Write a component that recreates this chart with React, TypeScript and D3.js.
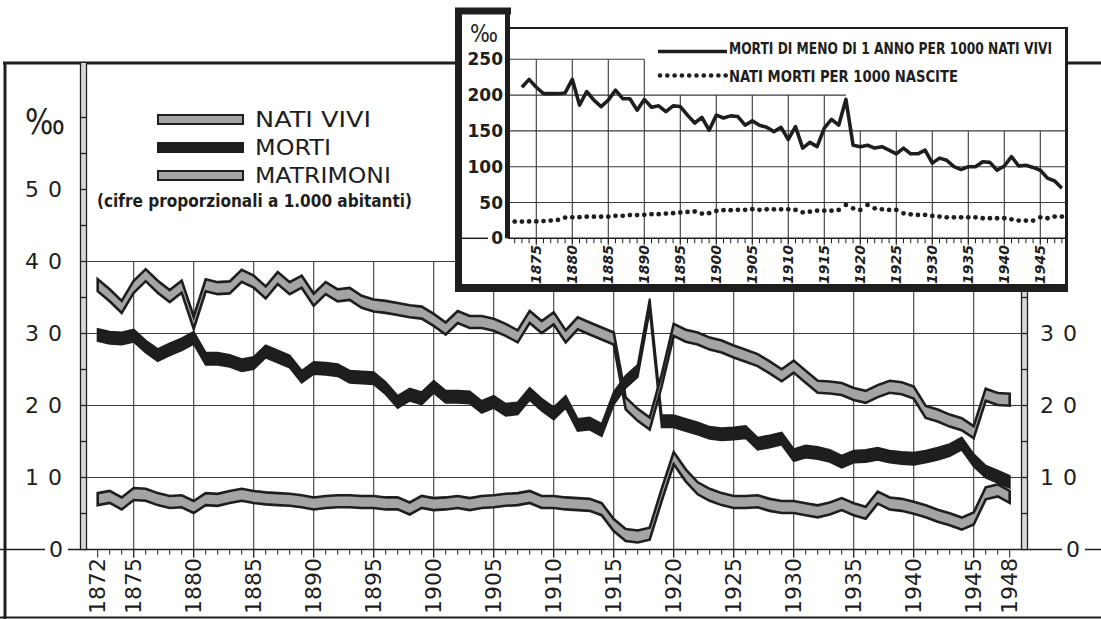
import * as d3 from 'd3';

// Annual series 1872–1948, per 1000 inhabitants (main chart)
const FIRST_YEAR = 1872;
const natiVivi = [
  36.7, 35.3, 33.7, 36.5, 38.1, 36.5, 35.2, 36.5, 31.5, 36.7,
  36.3, 36.4, 38.0, 37.2, 35.7, 37.7, 36.3, 37.2, 34.7, 36.3,
  35.3, 35.5, 34.4, 33.9, 33.7, 33.4, 33.1, 32.9, 31.9, 30.7,
  32.3, 31.6, 31.6, 31.2, 30.5, 29.6, 32.3, 30.9, 32.1, 29.6,
  31.4, 30.7, 30.0, 29.3, 20.3, 18.7, 17.5, 23.5, 30.5, 29.7,
  29.3, 28.6, 28.2, 27.5, 26.9, 26.3, 25.3, 24.2, 25.4, 24.0,
  22.6, 22.5, 22.3, 21.6, 21.2, 22.0, 22.6, 22.4, 21.8, 19.1,
  18.6, 17.9, 17.4, 16.3, 21.5, 20.9, 20.8,
];
const morti = [
  29.8, 29.4, 29.3, 29.7, 28.2, 27.0, 27.8, 28.5, 29.4, 26.5,
  26.5, 26.2, 25.6, 25.9, 27.5, 26.8, 26.1, 24.0, 25.2, 25.1,
  24.9, 24.0, 23.9, 23.8, 22.4, 20.5, 21.5, 21.0, 22.6, 21.2,
  21.2, 21.1, 19.8, 20.5, 19.4, 19.6, 21.6, 20.1, 18.9, 20.5,
  17.3, 17.5, 16.6, 21.0, 23.3, 24.8, 34.0, 17.8, 17.8, 17.3,
  16.8, 16.2, 16.0, 16.1, 16.3, 14.7, 15.0, 15.4, 13.1, 13.6,
  13.4, 13.0, 12.2, 12.9, 13.0, 13.3, 12.9, 12.7, 12.6, 12.9,
  13.3, 13.8, 14.7, 12.4, 10.8, 10.1, 9.4,
];
const matrimoni = [
  7.0, 7.3, 6.4, 7.7, 7.6, 7.0, 6.6, 6.7, 5.9, 7.0,
  6.9, 7.3, 7.6, 7.3, 7.1, 7.0, 6.9, 6.7, 6.4, 6.6,
  6.7, 6.7, 6.6, 6.6, 6.4, 6.4, 5.7, 6.6, 6.3, 6.4,
  6.6, 6.3, 6.6, 6.7, 6.9, 7.0, 7.3, 6.6, 6.6, 6.4,
  6.3, 6.2, 5.6, 3.4, 2.0, 1.8, 2.2, 7.6, 12.7, 10.3,
  8.5, 7.6, 7.0, 6.6, 6.6, 6.7, 6.2, 5.9, 5.9, 5.6,
  5.3, 5.7, 6.3, 5.6, 5.1, 7.2, 6.4, 6.2, 5.8, 5.3,
  4.7, 4.2, 3.6, 4.3, 7.8, 8.2, 7.3,
];

// Inset: infant deaths per 1000 live births (from 1873), stillbirths per 1000 births (from 1872)
const INFANT_FIRST_YEAR = 1873;
const mortiInfantili = [
  211, 222, 211, 202, 202, 202, 203, 222, 186, 205,
  193, 184, 193, 207, 195, 195, 179, 194, 183, 185,
  177, 185, 184, 172, 161, 169, 151, 172, 168, 171,
  170, 158, 164, 158, 155, 149, 155, 138, 156, 126,
  134, 128, 154, 166, 158, 194, 130, 128, 130, 126,
  128, 123, 118, 126, 118, 118, 123, 105, 112, 109,
  100, 96, 100, 100, 107, 106, 95, 101, 114, 101,
  102, 99, 95, 84, 80, 70,
];
const natiMorti = [
  23.3, 23.3, 23.5, 23.5, 24.0, 24.7, 25.6, 29.0, 29.3, 29.5,
  30.2, 30.2, 30.2, 30.2, 31.4, 31.4, 32.4, 32.4, 32.8, 33.7,
  33.7, 34.6, 35.1, 36.0, 36.9, 37.4, 34.6, 35.1, 38.3, 39.3,
  39.3, 39.8, 39.8, 40.7, 39.8, 40.5, 40.5, 40.5, 40.5, 39.6,
  36.3, 37.2, 38.6, 38.6, 38.6, 39.6, 46.6, 41.9, 39.6, 46.6,
  41.9, 40.5, 39.6, 39.6, 34.9, 33.5, 32.6, 32.6, 31.2, 30.3,
  29.3, 29.3, 29.3, 29.3, 29.3, 28.0, 28.0, 28.0, 28.0, 26.5,
  24.7, 24.7, 24.7, 29.3, 28.0, 30.3, 30.3,
];

const mainTickYears = [1872, 1875, 1880, 1885, 1890, 1895, 1900, 1905, 1910, 1915, 1920, 1925, 1930, 1935, 1940, 1945, 1948];
const mainGridYears = [1875, 1880, 1885, 1890, 1895, 1900, 1905, 1910, 1915, 1920, 1925, 1930, 1935, 1940, 1945];
const leftTicks = [50, 40, 30, 20, 10];
const rightTicks = [30, 20, 10];
const insetTickYears = [1875, 1880, 1885, 1890, 1895, 1900, 1905, 1910, 1915, 1920, 1925, 1930, 1935, 1940, 1945];
const insetYTicks = [250, 200, 150, 100, 50];

const legendItems = [
  { label: 'NATI VIVI', kind: 'grey', width: 116 },
  { label: 'MORTI', kind: 'black', width: 76 },
  { label: 'MATRIMONI', kind: 'grey', width: 136 },
];

const GREY = '#a4a4a4';
const INK = '#1e1e1e';
const FONT = '"DejaVu Sans", Verdana, sans-serif';
const CONDENSED = '"DejaVu Sans Condensed", "DejaVu Sans", sans-serif';

type Pt = [number, number];

export default function App() {
  const W = 1101;
  const H = 619;

  // main chart scales
  const x = d3.scaleLinear().domain([1872, 1948]).range([97.7, 1009.7]);
  const y = d3.scaleLinear().domain([0, 40]).range([549.5, 261.5]);
  const Y0 = y(0);
  const AXIS_L = 83.5;
  const AXIS_R = 1024.5;
  const HALF = 6; // half vertical thickness of the ribbons

  const toPts = (vals: number[], start: number): Pt[] => vals.map((v, i) => [start + i, v]);
  const ribbon = d3
    .area<Pt>()
    .x(d => x(d[0]))
    .y0(d => y(d[1]) + HALF)
    .y1(d => y(d[1]) - HALF);

  // inset scales
  const xi = d3.scaleLinear().domain([1872, 1948]).range([514.7, 1061.9]);
  const yi = d3.scaleLinear().domain([0, 250]).range([238.3, 59.3]);
  const YI0 = yi(0);
  const infantLine = d3
    .line<Pt>()
    .x(d => xi(d[0]))
    .y(d => yi(d[1]));

  const allYears = d3.range(1872, 1949);

  // vertical extent of inset gridlines (stepped outline)
  const insetGridTop = (yr: number) => (yr <= 1890 ? 250 : yr <= 1915 ? 200 : 150);

  // ruler-like double axis with crossbars every 5 units
  const ruler = (cx: number, yTop: number, key: string) => {
    const bars = d3.range(0, 65, 5).map(v => y(v)).filter(py => py >= yTop && py <= Y0);
    return (
      <g key={key}>
        <rect x={cx - 3} y={yTop} width={6} height={Y0 - yTop} fill="#d8d8d8" />
        <line x1={cx - 3} x2={cx - 3} y1={yTop} y2={Y0} stroke={INK} strokeWidth={1.3} />
        <line x1={cx + 3} x2={cx + 3} y1={yTop} y2={Y0} stroke={INK} strokeWidth={1.3} />
        {bars.map((py, i) => (
          <line key={i} x1={cx - 3} x2={cx + 3} y1={py} y2={py} stroke={INK} strokeWidth={1.3} />
        ))}
      </g>
    );
  };

  return (
    <svg
      width={W}
      height={H}
      viewBox={`0 0 ${W} ${H}`}
      style={{ position: 'absolute', left: 0, top: 0, background: '#fff' }}
    >
      <rect x={0} y={0} width={W} height={H} fill="#fff" />

      {/* outer frame of main chart */}
      <line x1={3} x2={460} y1={63} y2={63} stroke={INK} strokeWidth={3} />
      <line x1={1066} x2={W} y1={63} y2={63} stroke={INK} strokeWidth={3} />
      <line x1={5} x2={5} y1={62} y2={H} stroke={INK} strokeWidth={3} />
      <line x1={0} x2={W} y1={617.5} y2={617.5} stroke={INK} strokeWidth={2} />

      {/* horizontal gridlines */}
      {[10, 20, 30].map(v => (
        <line key={v} x1={AXIS_L} x2={AXIS_R} y1={y(v)} y2={y(v)} stroke="#3a3a3a" strokeWidth={1.1} />
      ))}
      <line x1={AXIS_L} x2={460} y1={y(40)} y2={y(40)} stroke="#3a3a3a" strokeWidth={1.1} />

      {/* vertical gridlines */}
      {mainGridYears.map(yr => (
        <line key={yr} x1={x(yr)} x2={x(yr)} y1={y(40)} y2={Y0 + 8} stroke="#3a3a3a" strokeWidth={1.1} />
      ))}

      {/* zero line */}
      <line x1={0} x2={45} y1={Y0} y2={Y0} stroke={INK} strokeWidth={1.5} />
      <line x1={68} x2={1062} y1={Y0} y2={Y0} stroke={INK} strokeWidth={1.5} />
      <line x1={1085} x2={W} y1={Y0} y2={Y0} stroke={INK} strokeWidth={1.5} />

      {/* yearly minor ticks */}
      {allYears.map(yr => (
        <line key={yr} x1={x(yr)} x2={x(yr)} y1={Y0} y2={Y0 + (yr % 5 === 0 || yr === 1872 || yr === 1948 ? 8 : 5)} stroke={INK} strokeWidth={1} />
      ))}

      {/* axes as double rulers */}
      {ruler(AXIS_L, 63, 'left')}
      {ruler(AXIS_R, 292, 'right')}

      {/* left axis labels */}
      <text x={25} y={134} fontFamily={FONT} fontSize={36} fill={INK} textLength={40} lengthAdjust="spacingAndGlyphs">‰</text>
      {leftTicks.map(v => (
        <text key={v} x={25} y={y(v)} dominantBaseline="central" fontFamily={FONT} fontSize={22} letterSpacing={9} fill={INK}>
          {v}
        </text>
      ))}
      <text x={49} y={Y0} dominantBaseline="central" fontFamily={FONT} fontSize={22} fill={INK}>0</text>

      {/* right axis labels */}
      {rightTicks.map(v => (
        <text key={v} x={1040} y={y(v)} dominantBaseline="central" fontFamily={FONT} fontSize={22} letterSpacing={9} fill={INK}>
          {v}
        </text>
      ))}
      <text x={1066} y={Y0} dominantBaseline="central" fontFamily={FONT} fontSize={22} fill={INK}>0</text>

      {/* x axis labels */}
      {mainTickYears.map(yr => (
        <text
          key={yr}
          transform={`translate(${x(yr)},558) rotate(-90)`}
          textAnchor="end"
          dominantBaseline="central"
          fontFamily={FONT}
          fontSize={22}
          fill={INK}
        >
          {yr}
        </text>
      ))}

      {/* series ribbons */}
      <path d={ribbon(toPts(morti, FIRST_YEAR)) ?? ''} fill={INK} stroke={INK} strokeWidth={2} strokeLinejoin="miter" />
      <path d={ribbon(toPts(natiVivi, FIRST_YEAR)) ?? ''} fill={GREY} stroke={INK} strokeWidth={2.6} strokeLinejoin="miter" />
      <path d={ribbon(toPts(matrimoni, FIRST_YEAR)) ?? ''} fill={GREY} stroke={INK} strokeWidth={2.6} strokeLinejoin="miter" />

      {/* legend */}
      {legendItems.map((it, i) => {
        const cy = 119.5 + i * 28;
        return (
          <g key={it.label}>
            <rect
              x={158}
              y={cy - 4.5}
              width={85}
              height={9}
              fill={it.kind === 'grey' ? GREY : INK}
              stroke={INK}
              strokeWidth={2}
            />
            <text x={255} y={cy + 7} fontFamily={FONT} fontSize={21} fill={INK} textLength={it.width} lengthAdjust="spacingAndGlyphs">
              {it.label}
            </text>
          </g>
        );
      })}
      <text x={97} y={207} fontFamily={CONDENSED} fontWeight="bold" fontSize={17} fill={INK} textLength={315} lengthAdjust="spacingAndGlyphs">
        (cifre proporzionali a 1.000 abitanti)
      </text>

      {/* ---------- inset ---------- */}
      <g>
        <rect x={458} y={10} width={608} height={279} fill="#fff" />
        {/* frame */}
        <line x1={455} x2={511} y1={11} y2={11} stroke={INK} strokeWidth={7} />
        <line x1={458.5} x2={458.5} y1={8} y2={292} stroke={INK} strokeWidth={7} />
        <line x1={455} x2={1068} y1={288} y2={288} stroke={INK} strokeWidth={8} />
        <line x1={508} x2={1068} y1={28} y2={28} stroke={INK} strokeWidth={2} />
        <line x1={1066.5} x2={1066.5} y1={27} y2={292} stroke={INK} strokeWidth={3} />

        {/* grid */}
        {insetYTicks.map(v => {
          const xEnd = v === 250 ? xi(1890) : v === 200 ? xi(1918) : 1066;
          return <line key={v} x1={508} x2={xEnd} y1={yi(v)} y2={yi(v)} stroke="#3a3a3a" strokeWidth={1.1} />;
        })}
        {insetTickYears.map(yr => (
          <line key={yr} x1={xi(yr)} x2={xi(yr)} y1={yi(insetGridTop(yr))} y2={YI0 + 7} stroke="#3a3a3a" strokeWidth={1.1} />
        ))}
        {allYears.map(yr => (
          <line key={yr} x1={xi(yr)} x2={xi(yr)} y1={YI0} y2={YI0 + 5} stroke={INK} strokeWidth={1} />
        ))}
        <line x1={462} x2={488} y1={YI0} y2={YI0} stroke={INK} strokeWidth={1.5} />
        <line x1={508} x2={1066} y1={YI0} y2={YI0} stroke={INK} strokeWidth={1.5} />
        <line x1={507.5} x2={507.5} y1={13} y2={YI0} stroke={INK} strokeWidth={5} />

        {/* y labels */}
        <text x={470} y={42} fontFamily={FONT} fontSize={24} fill={INK} textLength={28} lengthAdjust="spacingAndGlyphs">‰</text>
        {insetYTicks.map(v => (
          <text key={v} x={503} y={yi(v)} textAnchor="end" dominantBaseline="central" fontFamily={FONT} fontWeight="bold" fontSize={17} fill={INK}>
            {v}
          </text>
        ))}
        <text x={503} y={YI0} textAnchor="end" dominantBaseline="central" fontFamily={FONT} fontWeight="bold" fontSize={17} fill={INK}>0</text>

        {/* x labels */}
        {insetTickYears.map(yr => (
          <text
            key={yr}
            transform={`translate(${xi(yr)},245) rotate(-90)`}
            textAnchor="end"
            dominantBaseline="central"
            fontFamily={FONT}
            fontWeight="bold"
            fontStyle="italic"
            fontSize={14}
            fill={INK}
          >
            {yr}
          </text>
        ))}

        {/* series */}
        <path d={infantLine(toPts(mortiInfantili, INFANT_FIRST_YEAR)) ?? ''} fill="none" stroke={INK} strokeWidth={3.6} strokeLinejoin="round" />
        {natiMorti.map((v, i) => (
          <circle key={i} cx={xi(FIRST_YEAR + i)} cy={yi(v)} r={2.4} fill={INK} />
        ))}

        {/* legend */}
        <line x1={658} x2={727} y1={51.5} y2={51.5} stroke={INK} strokeWidth={3.6} />
        <text x={729} y={53.5} fontFamily={CONDENSED} fontWeight="bold" fontSize={15} fill={INK} textLength={323} lengthAdjust="spacingAndGlyphs">
          MORTI DI MENO DI 1 ANNO PER 1000 NATI VIVI
        </text>
        {d3.range(10).map(i => (
          <circle key={i} cx={660 + i * 7.3} cy={75.5} r={2.3} fill={INK} />
        ))}
        <text x={729} y={81.5} fontFamily={CONDENSED} fontWeight="bold" fontSize={15} fill={INK} textLength={229} lengthAdjust="spacingAndGlyphs">
          NATI MORTI PER 1000 NASCITE
        </text>
      </g>
    </svg>
  );
}
